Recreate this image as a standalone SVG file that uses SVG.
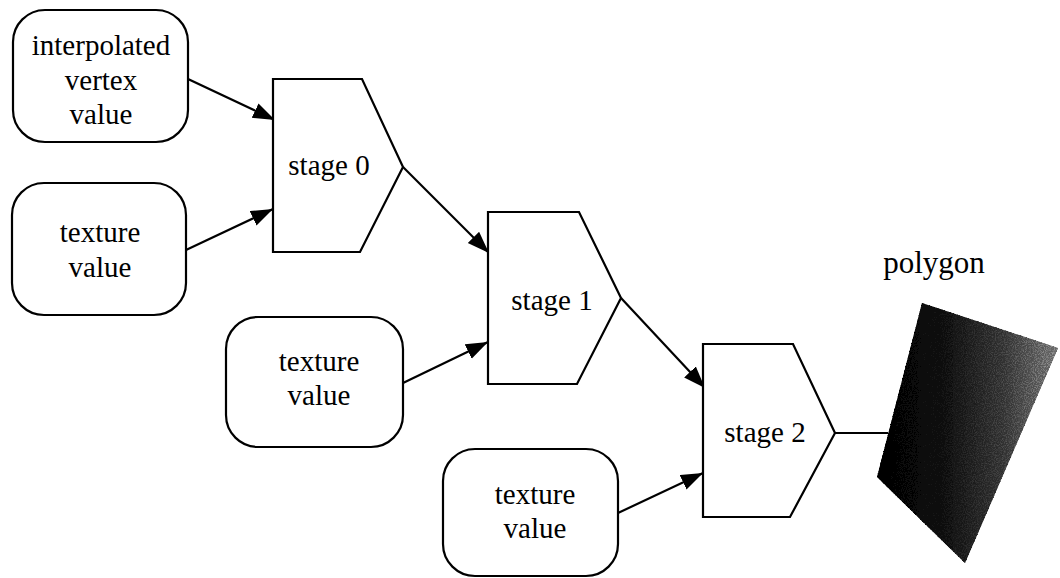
<svg xmlns="http://www.w3.org/2000/svg" width="1060" height="578" viewBox="0 0 1060 578">
<style>
.box{fill:#fff;stroke:#000;stroke-width:2.2}
.stage{fill:#fff;stroke:#000;stroke-width:2.2;stroke-linejoin:miter}
.t{font-family:"Liberation Serif","Times New Roman",serif;font-size:29px;fill:#000;text-anchor:middle}
.c{stroke:#000;stroke-width:2.2;fill:none}
</style>
<defs>
<marker id="ah" markerUnits="userSpaceOnUse" markerWidth="24" markerHeight="18" refX="22" refY="8" orient="auto">
<path d="M0,0 L22,8 L0,16 z" fill="#000"/>
</marker>
<linearGradient id="pg" x1="0" y1="0" x2="1" y2="0">
<stop offset="0" stop-color="#000"/>
<stop offset="0.35" stop-color="#0a0a0a"/>
<stop offset="0.7" stop-color="#303030"/>
<stop offset="1" stop-color="#6a6a6a"/>
</linearGradient>
<filter id="noise" x="0" y="0" width="100%" height="100%">
<feTurbulence type="fractalNoise" baseFrequency="0.9" numOctaves="2" seed="3" result="n"/>
<feColorMatrix in="n" type="matrix" values="0 0 0 0 1  0 0 0 0 1  0 0 0 0 1  3 0 0 0 -1.3" result="w"/>
<feComposite in="w" in2="SourceGraphic" operator="arithmetic" k1="1.6" k2="0" k3="1" k4="0"/>
</filter>
</defs>
<rect width="1060" height="578" fill="#fff"/>
<g id="connectors">
<line class="c" x1="188" y1="79" x2="275" y2="120" marker-end="url(#ah)"/>
<line class="c" x1="186" y1="250" x2="273" y2="209" marker-end="url(#ah)"/>
<line class="c" x1="403" y1="167" x2="489" y2="253" marker-end="url(#ah)"/>
<line class="c" x1="403" y1="383" x2="488" y2="342" marker-end="url(#ah)"/>
<line class="c" x1="621" y1="298" x2="705" y2="388" marker-end="url(#ah)"/>
<line class="c" x1="618" y1="513" x2="703" y2="473" marker-end="url(#ah)"/>
<line class="c" x1="835" y1="433" x2="888" y2="433"/>
</g>
<g id="interp">
<rect class="box" x="13" y="10" width="175" height="132" rx="32" ry="32"/>
<text class="t" x="101" y="55">interpolated</text>
<text class="t" x="101" y="90">vertex</text>
<text class="t" x="101" y="124">value</text>
</g>
<g id="tex0">
<rect class="box" x="12" y="183" width="174" height="132" rx="32" ry="32"/>
<text class="t" x="100" y="242">texture</text>
<text class="t" x="100" y="277">value</text>
</g>
<g id="tex1">
<rect class="box" x="226" y="317" width="177" height="130" rx="32" ry="32"/>
<text class="t" x="319" y="371">texture</text>
<text class="t" x="319" y="405">value</text>
</g>
<g id="tex2">
<rect class="box" x="443" y="449" width="175" height="127" rx="32" ry="32"/>
<text class="t" x="535" y="504">texture</text>
<text class="t" x="535" y="538">value</text>
</g>
<g id="stage0">
<polygon class="stage" points="273,79 362,79 403,167 360,252 273,252"/>
<text class="t" x="329" y="175">stage 0</text>
</g>
<g id="stage1">
<polygon class="stage" points="488,212 579,212 621,298 577,384 488,384"/>
<text class="t" x="552" y="310">stage 1</text>
</g>
<g id="stage2">
<polygon class="stage" points="703,344 793,344 835,433 790,517 703,517"/>
<text class="t" x="765" y="442">stage 2</text>
</g>
<g id="polygon">
<polygon points="922,303 1058,348 965,563 877,477" fill="url(#pg)" filter="url(#noise)"/>
<text class="t" x="934" y="273" style="font-size:31px">polygon</text>
</g>
</svg>
